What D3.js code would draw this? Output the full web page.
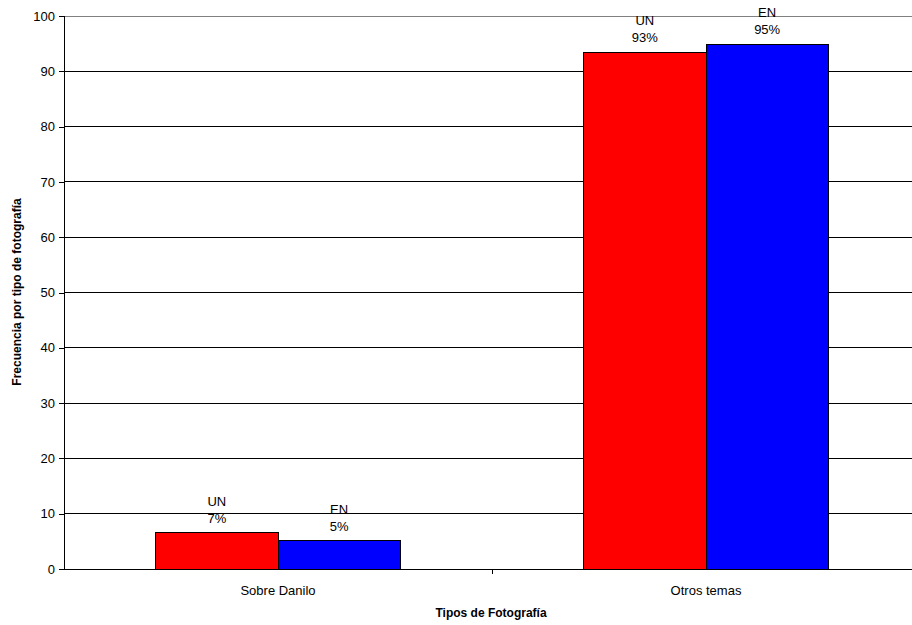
<!DOCTYPE html>
<html><head><meta charset="utf-8">
<script src="https://cdn.jsdelivr.net/npm/d3@7"></script>
<style>body{margin:0;background:#fff}svg{display:block;font-family:"Liberation Sans",Arial,sans-serif}</style>
</head><body>
<svg id="c" width="912" height="625"></svg>
<script>
const categories = ["Sobre Danilo", "Otros temas"];
const seriesNames = ["UN", "EN"];
const unValues = [6.6, 93.4];
const enValues = [5.1, 94.9];
const pctLabelsUN = ["7%", "93%"];
const pctLabelsEN = ["5%", "95%"];
const yTicks = [0,10,20,30,40,50,60,70,80,90,100];
const colors = ["#ff0000", "#0000ff"];

(function () {
const svg = d3.select("#c");
const mLeft = 64, mTop = 16, mBottom = 569, mRight = 920;
const x = d3.scaleBand().domain(categories).range([mLeft, mRight]).paddingInner(0).paddingOuter(0);
const inner = d3.scaleBand().domain(seriesNames).range([0, x.bandwidth()]).paddingInner(0).paddingOuter(0.75);
const y = d3.scaleLinear().domain([0, 100]).range([mBottom, mTop]);

// gridlines
svg.append("g").selectAll("line").data(yTicks.filter(d => d > 0)).join("line")
  .attr("x1", mLeft).attr("x2", 912).attr("y1", d => y(d)).attr("y2", d => y(d))
  .attr("stroke", d => d === 100 ? "#808080" : "#000").attr("stroke-width", 1)
  .attr("shape-rendering", "crispEdges");

const series = [unValues, enValues];
const labels = [pctLabelsUN, pctLabelsEN];
series.forEach((vals, si) => {
  const g = svg.append("g");
  g.selectAll("rect").data(categories).join("rect")
    .attr("x", c => x(c) + inner(seriesNames[si]))
    .attr("y", (c, i) => y(vals[i]))
    .attr("width", inner.bandwidth())
    .attr("height", (c, i) => y(0) - y(vals[i]))
    .attr("fill", colors[si]).attr("stroke", "#000").attr("stroke-width", 1)
    .attr("shape-rendering", "crispEdges");
  categories.forEach((c, i) => {
    const cx = x(c) + inner(seriesNames[si]) + inner.bandwidth() / 2;
    const t = g.append("text").attr("x", cx).attr("text-anchor", "middle")
      .attr("font-size", 13).attr("fill", "#000");
    t.append("tspan").attr("x", cx).attr("y", y(vals[i]) - 27).text(seriesNames[si]);
    t.append("tspan").attr("x", cx).attr("y", y(vals[i]) - 10).text(labels[si][i]);
  });
});

// y axis
const yAxis = d3.axisLeft(y).tickValues(yTicks).tickSize(5).tickPadding(4);
const ya = svg.append("g").attr("transform", `translate(${mLeft},0)`).call(yAxis);
ya.selectAll("text").attr("font-size", 13).attr("font-family", "Liberation Sans, Arial, sans-serif").attr("fill", "#000");
ya.selectAll("line,path").attr("stroke", "#000").attr("shape-rendering", "crispEdges");
ya.select("path").attr("d", `M0,${mTop}V${mBottom}`);

// x axis
const xa = svg.append("g").attr("transform", `translate(0,${mBottom})`);
xa.append("line").attr("x1", mLeft).attr("x2", 912).attr("y1", 0).attr("y2", 0)
  .attr("stroke", "#000").attr("shape-rendering", "crispEdges");
xa.selectAll("line.t").data(categories.slice(1)).join("line").attr("class", "t")
  .attr("x1", c => x(c)).attr("x2", c => x(c)).attr("y1", 0).attr("y2", 5)
  .attr("stroke", "#000").attr("shape-rendering", "crispEdges");
xa.selectAll("text").data(categories).join("text")
  .attr("x", c => x(c) + x.bandwidth() / 2).attr("y", 26)
  .attr("text-anchor", "middle").attr("font-size", 13).attr("fill", "#000").text(c => c);

// titles
svg.append("text").attr("x", 491).attr("y", 617).attr("text-anchor", "middle")
  .attr("font-size", 12).attr("font-weight", "bold").text("Tipos de Fotografía");
svg.append("text").attr("transform", "translate(21,292) rotate(-90)").attr("text-anchor", "middle")
  .attr("font-size", 12).attr("font-weight", "bold").text("Frecuencia por tipo de fotografía");
})();
</script>
</body></html>
